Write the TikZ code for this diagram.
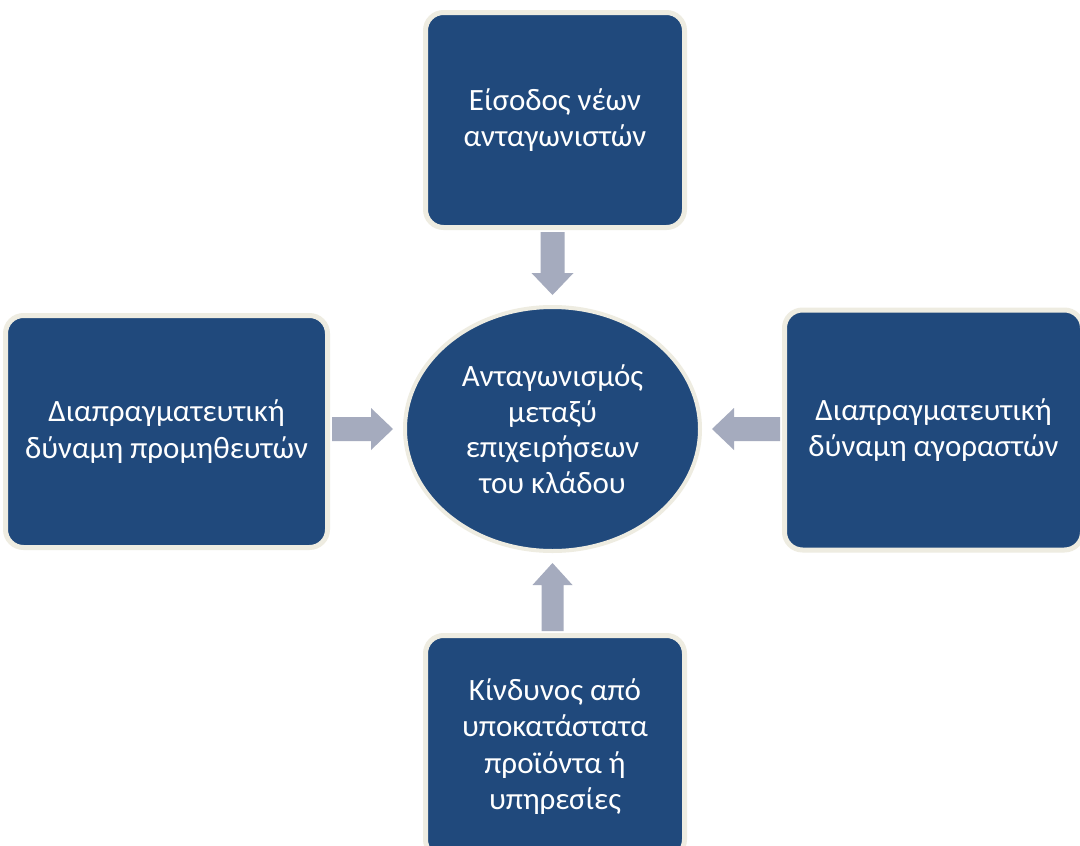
\documentclass[tikz,border=0pt]{standalone}
\usepackage{fontspec}
\setmainfont{Carlito}
\usetikzlibrary{shapes.geometric,calc}
\definecolor{boxblue}{RGB}{32,73,124}
\definecolor{boxedge}{RGB}{238,236,225}
\definecolor{arrowgrey}{RGB}{165,171,190}
\tikzset{
  force/.style={rectangle, rounded corners=18pt, fill=boxblue, draw=boxedge, line width=5pt,
    text=white, align=center, inner sep=0pt, font=\fontsize{31}{36.5}\selectfont},
  rivalry/.style={ellipse, fill=boxblue, draw=boxedge, line width=4pt,
    text=white, align=center, inner sep=0pt, font=\fontsize{31}{35.5}\selectfont},
  blockarr/.style={fill=arrowgrey}
}
\begin{document}
\begin{tikzpicture}[x=1pt,y=-1pt]
\fill[white] (0,0) rectangle (1080,846);
\useasboundingbox (0,0) rectangle (1080,846);

\node[force, minimum width=259pt, minimum height=215pt] (entry) at (555,120)
  {Είσοδος νέων\\ανταγωνιστών};
\node[force, minimum width=322pt, minimum height=232pt] (supp) at (166.5,431.5)
  {Διαπραγματευτική\\δύναμη προμηθευτών};
\node[force, minimum width=298pt, minimum height=240pt] (buy) at (933.5,430)
  {Διαπραγματευτική\\δύναμη αγοραστών};
\node[force, minimum width=259pt, minimum height=222pt] (subs) at (555,746.5)
  {Κίνδυνος από\\υποκατάστατα\\προϊόντα ή\\υπηρεσίες};
\node[rivalry, minimum width=295pt, minimum height=244pt] (rival) at (552.5,429)
  {Ανταγωνισμός\\μεταξύ\\επιχειρήσεων\\του κλάδου};

% top arrow
\fill[blockarr] let \p1=(entry.south), \p2=(rival.north) in
  (\x2-12pt,\y1-2pt) -- (\x2-12pt,\y2+32pt) -- (\x2-21pt,\y2+32pt) -- (\x2,\y2+10pt)
  -- (\x2+21pt,\y2+32pt) -- (\x2+12pt,\y2+32pt) -- (\x2+12pt,\y1-2pt) -- cycle;
% bottom arrow
\fill[blockarr] let \p1=(subs.north), \p2=(rival.south) in
  (\x2-11pt,\y1+2pt) -- (\x2-11pt,\y2-32pt) -- (\x2-20pt,\y2-32pt) -- (\x2,\y2-10pt)
  -- (\x2+20pt,\y2-32pt) -- (\x2+11pt,\y2-32pt) -- (\x2+11pt,\y1+2pt) -- cycle;
% left arrow
\fill[blockarr] let \p1=(supp.east), \p2=(rival.west) in
  (\x1+2pt,\y2-12pt) -- (\x2-32pt,\y2-12pt) -- (\x2-32pt,\y2-21pt) -- (\x2-10pt,\y2)
  -- (\x2-32pt,\y2+21pt) -- (\x2-32pt,\y2+12pt) -- (\x1+2pt,\y2+12pt) -- cycle;
% right arrow
\fill[blockarr] let \p1=(buy.west), \p2=(rival.east) in
  (\x1-2pt,\y2-12pt) -- (\x2+32pt,\y2-12pt) -- (\x2+32pt,\y2-21pt) -- (\x2+10pt,\y2)
  -- (\x2+32pt,\y2+21pt) -- (\x2+32pt,\y2+12pt) -- (\x1-2pt,\y2+12pt) -- cycle;
\end{tikzpicture}
\end{document}
